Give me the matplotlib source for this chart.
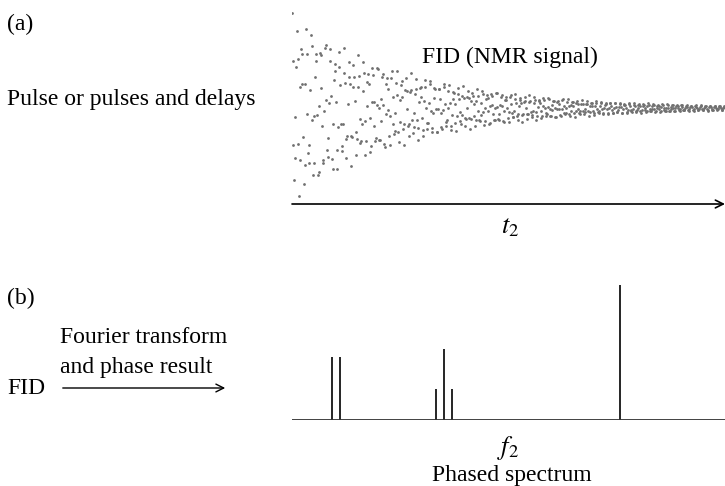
import numpy as np
import matplotlib
matplotlib.use("Agg")
import matplotlib.pyplot as plt
from matplotlib.patches import FancyArrowPatch

plt.rcParams['font.family'] = ['Liberation Serif', 'DejaVu Serif']
plt.rcParams['mathtext.fontset'] = 'stix'

# Spectrum: line positions on the f2 axis and their heights
peak_pos = [40, 48, 144, 152, 160, 328]
peak_height = [63, 63, 31, 71, 31, 135]

# FID components (cycles per sample), relative amplitudes, decay in samples
fid_freq = [0.147, 0.253]
fid_amp = [1.0, 0.2]
n_samples = 620
decay = 170.0

t = np.arange(n_samples)
fid = np.zeros(n_samples)
for f, a in zip(fid_freq, fid_amp):
    fid += a * np.cos(2 * np.pi * f * t)
fid = fid / np.max(np.abs(fid)) * np.exp(-t / decay)

fig = plt.figure(figsize=(7.25, 4.86), dpi=100)
W, H = 725, 486

# (a) FID panel
ax1 = fig.add_axes([292 / W, (H - 204) / H, 433 / W, 204 / H])
ax1.scatter(t, fid, s=4, color='#707070', linewidths=0)
ax1.set_xlim(0, n_samples)
ax1.set_ylim(-96 / 95, 108 / 95)
ax1.axis('off')
ax1.annotate('', xy=(1.0, 0), xytext=(0, 0), xycoords='axes fraction',
             arrowprops=dict(arrowstyle='->', lw=1.2, color='black',
                             shrinkA=0, shrinkB=0, mutation_scale=14))

# (b) spectrum panel
ax2 = fig.add_axes([292 / W, (H - 420) / H, 433 / W, 140 / H])
ax2.vlines(peak_pos, 0, peak_height, color='black', lw=1.2)
ax2.axhline(0, color='#333333', lw=1.3)
ax2.set_xlim(0, 433)
ax2.set_ylim(0, 140)
ax2.axis('off')

def label(x, y, s, fs=17, **kw):
    fig.text(x / W, 1 - y / H, s, fontsize=fs, va='center', **kw)

label(7, 24, '(a)')
label(7, 99, 'Pulse or pulses and delays')
label(422, 57, 'FID (NMR signal)')
label(510, 228, r'$t_2$', ha='center', fs=19)

label(7, 298, '(b)')
label(60, 337, 'Fourier transform')
label(60, 367, 'and phase result')
label(7, 389, 'FID')
fig.add_artist(FancyArrowPatch(
    (60 / W, 1 - 388 / H), (228 / W, 1 - 388 / H), transform=fig.transFigure,
    arrowstyle='->', mutation_scale=14, lw=1.0, color='black'))
label(508, 448, r'$f_2$', ha='center', fs=19)
label(512, 475, 'Phased spectrum', ha='center')

fig.savefig('out.png', dpi=100)
